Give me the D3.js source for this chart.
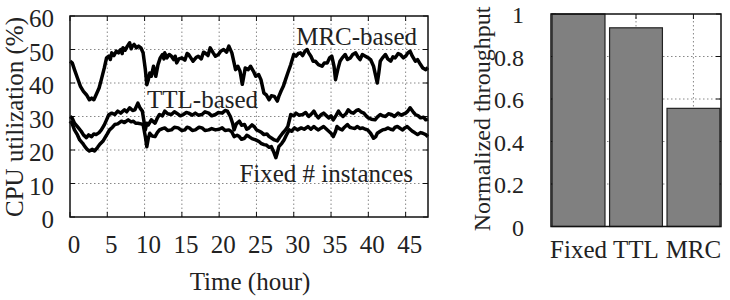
<!DOCTYPE html>
<html>
<head>
<meta charset="utf-8">
<script src="https://cdn.jsdelivr.net/npm/d3@7"></script>
<style>
  body { margin: 0; background: #fff; }
  svg text { font-family: "Liberation Serif", "Times New Roman", serif; fill: #222; }
</style>
</head>
<body>
<svg id="chart" width="730" height="300"></svg>
<script>
// CPU utilization over time, [hour, percent]
const mrcSeries = [
  [0,46.5],[0.3,46],[0.6,44],[1.0,41.5],[1.4,39],[1.8,37.5],[2.2,36.5],[2.6,35],[2.9,35.5],[3.2,35],
  [3.5,36.5],[3.9,38.5],[4.2,41],[4.6,44.5],[4.9,47.5],[5.2,48],[5.4,47],[5.6,49],[5.9,48.2],[6.2,49.5],[6.5,49],
  [6.8,50],[7.0,48.8],[7.1,50.5],[7.4,49.8],[7.7,51],[8.0,52],[8.2,50.2],[8.3,50.8],[8.6,51.5],[8.9,50.5],[9.2,51],[9.5,50.5],
  [9.8,49],[10.1,44],[10.3,39.5],[10.5,41],[10.7,43],[10.9,42],[11.2,45],[11.5,42],[11.8,45.5],[12.1,47.5],
  [12.4,48.5],[12.6,47.2],[12.7,49],[13.0,47.5],[13.3,48.5],[13.6,48],[13.9,47],[14.1,48],[14.3,46],[14.6,47.2],[15.0,47.5],[15.4,46.8],
  [15.7,48.8],[15.9,48.5],[16.2,47.5],[16.5,46.5],[16.9,47.6],[17.2,48],[17.6,47.2],[17.9,49.2],[18.1,49],[18.5,48.2],[18.8,50.5],[19.2,49],
  [19.5,48],[19.9,48.5],[20.2,49.5],[20.6,50],[21.0,49.2],[21.3,51],[21.7,49],[22.0,46],[22.2,44],[22.5,45],
  [22.8,43.5],[23.1,39.6],[23.3,42],[23.5,44.5],[23.9,44],[24.2,45],[24.6,43.5],[24.9,42],[25.3,42.5],[25.6,41],
  [26.0,37],[26.3,36.5],[26.7,35],[27.0,36.2],[27.4,36],[27.8,34.6],[28.0,36],[28.3,37.6],[28.6,39],[28.9,41],
  [29.2,43],[29.6,45.5],[30.0,48.5],[30.3,48],[30.6,48.8],[30.9,49],[31.2,48.2],[31.5,49.5],[31.8,50],[32.0,49],
  [32.3,48],[32.6,46.5],[32.9,46.5],[33.3,45.5],[33.8,45],[34.1,46],[34.5,46],[34.8,47.5],[35.1,48],[35.4,45],
  [35.6,41],[35.9,44],[36.2,46.5],[36.5,47.5],[36.9,48.5],[37.2,47],[37.6,47.5],[37.9,48.5],[38.3,49],[38.6,47.8],
  [38.9,47],[39.2,48.5],[39.6,48],[40.0,47.5],[40.3,47],[40.7,45],[41.0,42],[41.2,40],[41.4,43],[41.6,46.5],
  [41.9,47.5],[42.3,48.5],[42.6,47.2],[43.0,46.5],[43.3,47.8],[43.6,47.5],[44.0,48.8],[44.3,48.5],[44.7,47.5],[45.0,48],
  [45.3,49],[45.6,49.5],[45.9,48],[46.3,46.5],[46.6,47],[47.0,45.5],[47.3,44.5],[47.7,44],[48.0,44.6]
];

const ttlSeries = [
  [0,30],[0.3,29.5],[0.6,28],[1.0,27],[1.5,25.6],[1.8,24.5],[2.2,23.7],[2.5,24.5],[2.9,24],[3.2,24.8],
  [3.5,24.6],[3.9,25.2],[4.2,26],[4.6,27.5],[4.9,29],[5.2,30.5],[5.6,31],[6.0,30.6],[6.4,31.6],[6.8,31],
  [7.3,32],[7.6,31.4],[8.0,32.6],[8.4,31.8],[8.7,32],[9.1,34],[9.4,32.5],[9.7,31.6],[10.1,26],[10.3,28],
  [10.5,27.5],[10.9,29],[11.2,28.4],[11.4,28],[11.7,29.5],[12.0,30.6],[12.4,30.2],[12.7,31.6],[13.1,30.8],[13.6,30.6],
  [14.0,31.4],[14.3,31],[14.8,30.2],[15.2,30.6],[15.6,31.2],[15.9,31],[16.4,30.4],[16.8,31],[17.2,30.4],[17.7,30.6],
  [18.1,31.4],[18.6,31],[19.0,30.2],[19.5,30.6],[19.9,31.2],[20.4,31],[20.8,31.8],[21.1,31.6],[21.5,30],[21.8,28],
  [22.0,26],[22.3,27.8],[22.7,28.6],[23.0,27.4],[23.4,27.6],[23.7,26.2],[24.0,26.6],[24.4,27.5],[24.7,27],[25.0,26],
  [25.4,25.6],[25.7,25.2],[26.0,24.6],[26.4,24.8],[26.7,24],[27.0,23.6],[27.4,23],[27.8,22.7],[28.1,23.8],[28.5,25],
  [28.9,26],[29.2,27],[29.6,30.6],[30.0,30.2],[30.3,31],[30.7,30.4],[31.2,30.6],[31.6,31.2],[32.0,30],[32.4,30.8],
  [32.7,31.6],[33.0,30.4],[33.3,29.6],[33.7,30.6],[34.0,31],[34.4,30.2],[34.7,29.6],[35.0,30.2],[35.3,29],[35.7,30.4],
  [36.0,31.6],[36.3,30.6],[36.6,30],[37.0,30.8],[37.3,32],[37.7,31.2],[38.0,31],[38.4,31.8],[38.7,32],[39.0,31.4],
  [39.4,31],[39.7,30.2],[40.0,29.6],[40.4,29.2],[40.9,29],[41.2,29.8],[41.6,30.6],[41.9,30.2],[42.3,30],[42.7,30.8],
  [43.1,30.6],[43.5,30],[44.0,31],[44.4,30.4],[45.0,31],[45.3,31.6],[45.6,32.6],[46.0,31.4],[46.3,30.6],[46.7,30.2],
  [47.0,29.6],[47.4,29.8],[47.7,29],[48.0,29.2]
];

const fixedSeries = [
  [0,28.6],[0.3,27.8],[0.6,26],[1.0,24.5],[1.3,23],[1.7,22],[2.0,21],[2.3,20.2],[2.6,19.7],[3.0,20.2],
  [3.3,19.7],[3.7,20.8],[4.0,21.7],[4.4,22.6],[4.7,23.7],[5.0,24.8],[5.3,26],[5.7,26.8],[6.0,27.6],[6.4,27.8],
  [6.9,28.6],[7.3,28.2],[7.8,29],[8.2,28.4],[8.5,28.6],[8.8,28],[9.1,28],[9.5,27.8],[9.8,27.6],[10.1,24],
  [10.3,21],[10.5,23.5],[10.7,25],[11.0,24.2],[11.4,24],[11.7,25.2],[12.0,26],[12.4,26.4],[12.7,26.6],[13.1,25.8],
  [13.6,26],[14.0,26.8],[14.5,26.6],[15.0,25.8],[15.4,26],[15.7,26.8],[16.0,26.6],[16.4,25.8],[16.8,26],[17.3,26.8],
  [17.7,26.6],[18.1,25.8],[18.6,26],[19.0,26.4],[19.5,26],[20.0,26.2],[20.4,26.6],[20.8,25.8],[21.3,26],[21.7,25.4],
  [22.0,24],[22.4,24.4],[22.7,24],[23.0,23.2],[23.4,23.5],[23.7,24.4],[24.0,24],[24.4,23.4],[24.9,23],[25.3,22.6],
  [25.6,22],[26.0,21.6],[26.3,21.5],[26.7,20.8],[27.0,21],[27.3,19.5],[27.6,17.7],[27.8,19.2],[28.0,21],[28.4,22],
  [28.7,23],[29.0,24.4],[29.4,26],[29.7,25.6],[30.1,26.6],[30.5,26],[31.0,26.6],[31.4,26.2],[31.9,27],[32.3,26.2],
  [32.7,27],[33.0,26.4],[33.3,26],[33.7,26.6],[34.0,27],[34.4,26.2],[34.7,25.6],[35.0,25],[35.3,24],[35.6,25.5],
  [35.8,27],[36.1,26.4],[36.5,26],[36.8,26.8],[37.2,27.6],[37.5,26.8],[37.8,26.6],[38.2,26.4],[38.5,27],[38.9,26.4],
  [39.2,26.6],[39.6,26.2],[39.9,26],[40.3,25],[40.7,23.5],[41.0,24],[41.2,25],[41.6,25.6],[41.9,26],[42.3,26.2],
  [42.6,26.6],[43.0,26.2],[43.3,26],[43.6,26.8],[43.9,27],[44.3,26.4],[44.6,26],[44.9,26.6],[45.2,27],[45.6,26.2],
  [45.9,25.6],[46.2,25.2],[46.6,24.6],[47.0,25.2],[47.3,25],[47.7,24.6],[48.0,24]
];

const seriesLabels = ["MRC-based", "TTL-based", "Fixed # instances"];
const hourTicks = [0, 5, 10, 15, 20, 25, 30, 35, 40, 45];
const cpuTicks = [0, 10, 20, 30, 40, 50, 60];

// Throughput bars
const barCategories = ["Fixed", "TTL", "MRC"];
const barValues = [1.0, 0.935, 0.556];
const throughputTicks = [0, 0.2, 0.4, 0.6, 0.8, 1];

const svg = d3.select("#chart");
const fontSize = 25;
const tickLen = 5;

const drawFrame = (g, x0, x1, y0, y1) => {
  g.append("rect")
    .attr("x", x0).attr("y", y1)
    .attr("width", x1 - x0).attr("height", y0 - y1)
    .attr("fill", "none").attr("stroke", "#111").attr("stroke-width", 1.5);
};

const gridStyle = sel => sel
  .attr("stroke", "#888")
  .attr("stroke-width", 1)
  .attr("stroke-dasharray", "1.5,2.5");

// ---------- Left: CPU utilization ----------
const left = { x0: 70, x1: 428, top: 16, bottom: 217 };

const x = d3.scaleLinear().domain([0, 48]).range([left.x0, left.x1]);
const y = d3.scaleLinear().domain([0, 60]).range([left.bottom, left.top]);

const lg = svg.append("g");

//Grid
lg.selectAll(".vgrid").data(hourTicks.filter(d => d > 0)).enter()
  .append("line")
  .attr("x1", d => x(d)).attr("x2", d => x(d))
  .attr("y1", left.bottom).attr("y2", left.top)
  .call(gridStyle);

lg.selectAll(".hgrid").data(cpuTicks.filter(d => d > 0 && d < 60)).enter()
  .append("line")
  .attr("x1", left.x0).attr("x2", left.x1)
  .attr("y1", d => y(d)).attr("y2", d => y(d))
  .call(gridStyle);

//Ticks (inward, mirrored)
hourTicks.forEach(t => {
  lg.append("line").attr("x1", x(t)).attr("x2", x(t))
    .attr("y1", left.bottom).attr("y2", left.bottom - tickLen).attr("stroke", "#111");
  lg.append("line").attr("x1", x(t)).attr("x2", x(t))
    .attr("y1", left.top).attr("y2", left.top + tickLen).attr("stroke", "#111");
});
cpuTicks.forEach(t => {
  lg.append("line").attr("x1", left.x0).attr("x2", left.x0 + tickLen)
    .attr("y1", y(t)).attr("y2", y(t)).attr("stroke", "#111");
  lg.append("line").attr("x1", left.x1).attr("x2", left.x1 - tickLen)
    .attr("y1", y(t)).attr("y2", y(t)).attr("stroke", "#111");
});

//Lines
const line = d3.line().x(d => x(d[0])).y(d => y(d[1]));

lg.selectAll(".series").data([mrcSeries, ttlSeries, fixedSeries]).enter()
  .append("path")
  .attr("d", line)
  .attr("fill", "none")
  .attr("stroke", "#000")
  .attr("stroke-width", 3.5)
  .attr("stroke-linejoin", "round");

drawFrame(lg, left.x0, left.x1, left.bottom, left.top);

//Tick labels
lg.selectAll(".xlab").data(hourTicks).enter()
  .append("text")
  .attr("x", d => x(d) + 4)
  .attr("y", 253)
  .attr("text-anchor", "middle")
  .attr("font-size", fontSize)
  .text(d => d);

lg.selectAll(".ylab").data(cpuTicks).enter()
  .append("text")
  .attr("x", 54)
  .attr("y", d => y(d) + 11)
  .attr("text-anchor", "end")
  .attr("font-size", fontSize)
  .text(d => d);

lg.append("text")
  .attr("x", 250).attr("y", 290)
  .attr("text-anchor", "middle")
  .attr("font-size", fontSize)
  .text("Time (hour)");

lg.append("text")
  .attr("transform", "translate(23,117) rotate(-90)")
  .attr("text-anchor", "middle")
  .attr("font-size", 25)
  .text("CPU utilization (%)");

//Series labels
const labelPos = [
  { x: 417, y: 45, anchor: "end" },
  { x: 147, y: 108, anchor: "start" },
  { x: 413, y: 182, anchor: "end" }
];
lg.selectAll(".slab").data(seriesLabels).enter()
  .append("text")
  .attr("x", (d, i) => labelPos[i].x)
  .attr("y", (d, i) => labelPos[i].y)
  .attr("text-anchor", (d, i) => labelPos[i].anchor)
  .attr("font-size", fontSize)
  .text(d => d);

// ---------- Right: normalized throughput ----------
const right = { x0: 551, x1: 721, top: 14, bottom: 226.5 };

const xb = d3.scaleBand().domain(barCategories).range([right.x0, right.x1])
  .paddingInner(0.08).paddingOuter(0.02);
const yb = d3.scaleLinear().domain([0, 1]).range([right.bottom, right.top]);

const rg = svg.append("g");

//Grid
rg.selectAll(".vgrid").data(barCategories).enter()
  .append("line")
  .attr("x1", d => xb(d) + xb.bandwidth() / 2).attr("x2", d => xb(d) + xb.bandwidth() / 2)
  .attr("y1", right.bottom).attr("y2", right.top)
  .call(gridStyle);

rg.selectAll(".hgrid").data(throughputTicks.filter(d => d > 0 && d < 1)).enter()
  .append("line")
  .attr("x1", right.x0).attr("x2", right.x1)
  .attr("y1", d => yb(d)).attr("y2", d => yb(d))
  .call(gridStyle);

//Ticks
throughputTicks.forEach(t => {
  rg.append("line").attr("x1", right.x0).attr("x2", right.x0 + tickLen)
    .attr("y1", yb(t)).attr("y2", yb(t)).attr("stroke", "#111");
  rg.append("line").attr("x1", right.x1).attr("x2", right.x1 - tickLen)
    .attr("y1", yb(t)).attr("y2", yb(t)).attr("stroke", "#111");
});
barCategories.forEach(c => {
  const cx = xb(c) + xb.bandwidth() / 2;
  rg.append("line").attr("x1", cx).attr("x2", cx)
    .attr("y1", right.top).attr("y2", right.top + tickLen).attr("stroke", "#111");
});

//Bars
rg.selectAll(".bar").data(barValues).enter()
  .append("rect")
  .attr("x", (d, i) => xb(barCategories[i]))
  .attr("width", xb.bandwidth())
  .attr("y", d => yb(d))
  .attr("height", d => right.bottom - yb(d))
  .attr("fill", "#808080")
  .attr("stroke", "#222")
  .attr("stroke-width", 1.2);

drawFrame(rg, right.x0, right.x1, right.bottom, right.top);

//Labels
rg.selectAll(".xlab").data(barCategories).enter()
  .append("text")
  .attr("x", d => xb(d) + xb.bandwidth() / 2)
  .attr("y", 258)
  .attr("text-anchor", "middle")
  .attr("font-size", fontSize)
  .text(d => d);

rg.selectAll(".ylab").data(throughputTicks).enter()
  .append("text")
  .attr("x", 524)
  .attr("y", d => yb(d) + 9)
  .attr("text-anchor", "end")
  .attr("font-size", 24)
  .text(d => d);

rg.append("text")
  .attr("transform", "translate(490,119) rotate(-90)")
  .attr("text-anchor", "middle")
  .attr("font-size", 24)
  .text("Normalized throughput");
</script>
</body>
</html>
